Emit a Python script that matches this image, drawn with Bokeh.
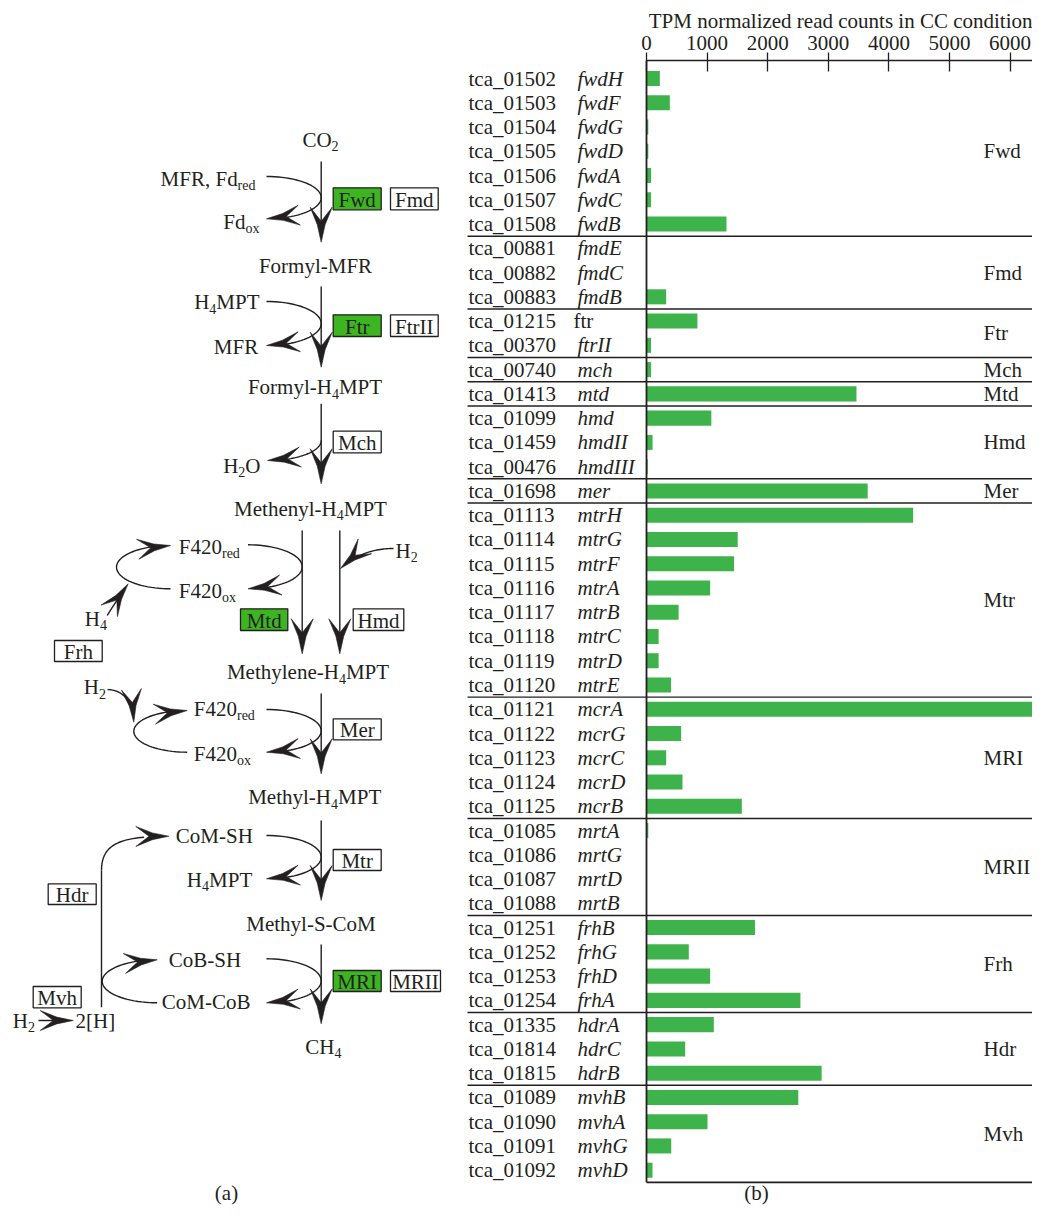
import math
import numpy as np
from bokeh.plotting import figure
from bokeh.models import Range1d, FixedTicker
from bokeh.embed import file_html
from bokeh.resources import INLINE
from bokeh.core.properties import value

# ------------------------------------------------------------------ data
locus_ids = [
    "tca_01502", "tca_01503", "tca_01504", "tca_01505", "tca_01506", "tca_01507", "tca_01508",
    "tca_00881", "tca_00882", "tca_00883",
    "tca_01215", "tca_00370",
    "tca_00740",
    "tca_01413",
    "tca_01099", "tca_01459", "tca_00476",
    "tca_01698",
    "tca_01113", "tca_01114", "tca_01115", "tca_01116", "tca_01117", "tca_01118", "tca_01119", "tca_01120",
    "tca_01121", "tca_01122", "tca_01123", "tca_01124", "tca_01125",
    "tca_01085", "tca_01086", "tca_01087", "tca_01088",
    "tca_01251", "tca_01252", "tca_01253", "tca_01254",
    "tca_01335", "tca_01814", "tca_01815",
    "tca_01089", "tca_01090", "tca_01091", "tca_01092",
]
gene_names = [
    "fwdH", "fwdF", "fwdG", "fwdD", "fwdA", "fwdC", "fwdB",
    "fmdE", "fmdC", "fmdB",
    "ftr", "ftrII",
    "mch",
    "mtd",
    "hmd", "hmdII", "hmdIII",
    "mer",
    "mtrH", "mtrG", "mtrF", "mtrA", "mtrB", "mtrC", "mtrD", "mtrE",
    "mcrA", "mcrG", "mcrC", "mcrD", "mcrB",
    "mrtA", "mrtG", "mrtD", "mrtB",
    "frhB", "frhG", "frhD", "frhA",
    "hdrA", "hdrC", "hdrB",
    "mvhB", "mvhA", "mvhG", "mvhD",
]
tpm_values = [
    220, 385, 30, 30, 75, 75, 1320,
    5, 5, 325,
    840, 75,
    75,
    3465,
    1070, 100, 20,
    3650,
    4400, 1505, 1445, 1050, 530, 200, 200, 405,
    6390, 572, 325, 594, 1573,
    30, 5, 3, 3,
    1790, 698, 1050, 2540,
    1111, 638, 2890,
    2505, 1007, 408, 99,
]
group_names = ["Fwd", "Fmd", "Ftr", "Mch", "Mtd", "Hmd", "Mer", "Mtr",
               "MRI", "MRII", "Frh", "Hdr", "Mvh"]
group_sizes = [7, 3, 2, 1, 1, 3, 1, 8, 5, 4, 4, 3, 4]
axis_ticks = [0, 1000, 2000, 3000, 4000, 5000, 6000]
axis_title = "TPM normalized read counts in CC condition"
upright_genes = ["ftr"]

# ------------------------------------------------------------------ style / layout
INK = "#231f20"
BAR_GREEN = "#3fb34b"
BOX_GREEN = "#3cb521"
FONT = "Liberation Serif"
FS = 21
SUB_FS = 14
SUB_DY = 6.5

W, H = 1032, 1205
TOP_PANEL = 60          # px above the plotting frame (axis + title)
ORIGIN_PX = 646         # px from left edge to value 0
PX_PER_UNIT = 60.6 / 1000.0
ROW_PX = 24.26
FIRST_ROW_PX = 18       # frame top -> first row centre

x_lo = -ORIGIN_PX / PX_PER_UNIT
x_hi = (W - ORIGIN_PX) / PX_PER_UNIT
y_top = -FIRST_ROW_PX / ROW_PX
y_bot = y_top + (H - TOP_PANEL) / ROW_PX

p = figure(width=W, height=H, x_range=Range1d(x_lo, x_hi), y_range=Range1d(y_bot, y_top),
           x_axis_location="above", y_axis_type=None, toolbar_location=None,
           output_backend="svg", min_border_left=0, min_border_right=0,
           min_border_bottom=0, min_border_top=TOP_PANEL, outline_line_color=None,
           title=axis_title)
p.xgrid.visible = False
p.ygrid.visible = False
p.title.align = "right"
p.title.text_font = FONT
p.title.text_font_size = f"{FS}px"
p.title.text_font_style = "normal"
p.title.text_color = INK
p.title.standoff = 0
p.title.offset = 0

# pixel-space ranges for the pathway diagram (panel a) and captions
p.extra_x_ranges = {"px": Range1d(0, W)}
p.extra_y_ranges = {"py": Range1d(H, TOP_PANEL)}
D = dict(x_range_name="px", y_range_name="py")

ax = p.xaxis[0]
ax.ticker = FixedTicker(ticks=axis_ticks)
ax.bounds = (0, x_hi)
ax.major_label_text_font = FONT
ax.major_label_text_font_size = f"{FS}px"
ax.major_label_text_color = INK
ax.major_label_standoff = 3
ax.major_tick_out = 8
ax.major_tick_in = 11
ax.minor_tick_line_color = None
ax.axis_line_color = INK
ax.axis_line_width = 1.5
ax.major_tick_line_color = INK
ax.major_tick_line_width = 1.3


def tw(s, size):
    cw = {' ': 250, ',': 250, '-': 333, '[': 333, ']': 333, '(': 333, ')': 333,
          'A': 722, 'B': 667, 'C': 667, 'D': 722, 'E': 611, 'F': 556, 'G': 722,
          'H': 722, 'I': 333, 'M': 889, 'O': 722, 'P': 556, 'R': 667, 'S': 556,
          'T': 611, 'a': 444, 'b': 500, 'c': 444, 'd': 500, 'e': 444, 'f': 333,
          'h': 500, 'i': 278, 'l': 278, 'm': 778, 'n': 500, 'o': 500, 'r': 333,
          't': 278, 'v': 500, 'w': 722, 'x': 500, 'y': 500}
    return sum(cw.get(c, 500) for c in s) / 1000.0 * size


# ------------------------------------------------------------------ panel (b): bars
rows = list(range(len(locus_ids)))
p.hbar(y=rows, left=0, right=tpm_values, height=0.62,
       fill_color=BAR_GREEN, line_color=None)

starts = np.cumsum([0] + group_sizes)
sep_y = [s - 0.5 for s in starts[1:-1]]
x_sep = -(ORIGIN_PX - 467) / PX_PER_UNIT
p.segment(x0=[x_sep] * len(sep_y), y0=sep_y, x1=[x_hi] * len(sep_y), y1=sep_y,
          line_color=INK, line_width=1.4)
last = starts[-1] - 0.5
p.segment(x0=[0, 0], y0=[y_top, last], x1=[0, x_hi], y1=[last, last],
          line_color=INK, line_width=1.8)

txt = dict(text_baseline="middle", text_font=value(FONT),
           text_font_size=value(f"{FS}px"), text_color=INK)
p.text(x=[0] * len(rows), y=rows, text=locus_ids, x_offset=-178, text_align="left", **txt)
ital = [i for i in rows if gene_names[i] not in upright_genes]
upr = [i for i in rows if gene_names[i] in upright_genes]
p.text(x=[0] * len(ital), y=ital, text=[gene_names[i] for i in ital], x_offset=-69,
       text_align="left", text_font_style="italic", **txt)
p.text(x=[0] * len(upr), y=upr, text=[gene_names[i] for i in upr], x_offset=-73,
       text_align="left", **txt)
centers = [(starts[k] + starts[k + 1] - 1) / 2 for k in range(len(group_names))]
p.text(x=[0] * len(centers), y=centers, text=group_names, x_offset=337,
       text_align="left", **txt)

# ------------------------------------------------------------------ panel (a): pathway
main_t = {"x": [], "y": [], "t": []}
sub_t = {"x": [], "y": [], "t": []}


def rich(x, y, parts, align="left"):
    total = sum(tw(t, SUB_FS if s else FS) for t, s in parts)
    cx = x - total if align == "right" else (x - total / 2 if align == "center" else x)
    for t, s in parts:
        d = sub_t if s else main_t
        d["x"].append(cx)
        d["y"].append(y + (SUB_DY if s else 0))
        d["t"].append(t)
        cx += tw(t, SUB_FS if s else FS)


heads_x, heads_y = [], []
lines_x, lines_y = [], []


def add_head(tx, ty, dx, dy, L=34.0, Wd=11.0, notch=0.6, bow=1.6):
    n = math.hypot(dx, dy)
    ux, uy = dx / n, dy / n
    qx, qy = -uy, ux

    def pt(a, b):
        return (tx - a * ux + b * qx, ty - a * uy + b * qy)
    pts = [pt(0, 0), pt(L * 0.5, Wd * 0.5 - bow), pt(L, Wd), pt(notch * L, 0),
           pt(L, -Wd), pt(L * 0.5, -(Wd * 0.5 - bow))]
    heads_x.append([q[0] for q in pts])
    heads_y.append([q[1] for q in pts])


def add_line(xs, ys):
    lines_x.append(list(xs))
    lines_y.append(list(ys))


for x, y0, y1 in [(320.7, 161, 241.7), (320.7, 286, 366.7), (320.7, 403.3, 483.3),
                  (301.7, 530, 653.3), (339.3, 530, 653.3), (320.7, 693, 773.3),
                  (320.7, 820, 900), (320.7, 944, 1023.3)]:
    add_line([x, x], [y0, y1 - 18])
    add_head(x, y1, 0, 1, L=35, Wd=11)


def right_arc(xs, ytop, xline, ytip, t0=-90.0):
    cx, cy = xs, (ytop + ytip) / 2
    a, b = xline - xs, (ytip - ytop) / 2
    t = np.radians(np.linspace(t0, 72, 40))
    add_line(cx + a * np.cos(t), cy + b * np.sin(t))
    tb = math.radians(58)
    bx, by = cx + a * math.cos(tb), cy + b * math.sin(tb)
    add_head(cx, cy + b, cx - bx, cy + b - by, L=33, Wd=10)


def left_arc(xs, ybot, xleft, ytip):
    cx, cy = xs, (ybot + ytip) / 2
    a, b = xs - xleft, (ybot - ytip) / 2
    t = np.radians(np.linspace(90, 250, 40))
    add_line(cx + a * np.cos(t), cy + b * np.sin(t))
    tb = math.radians(238)
    bx, by = cx + a * math.cos(tb), cy + b * math.sin(tb)
    add_head(cx, cy - b, cx - bx, cy - b - by, L=33, Wd=10)


def bez_arrow(pts):
    q = np.array(pts, dtype=float)
    t = np.linspace(0, 0.8, 30)[:, None]
    if len(q) == 3:
        c = (1 - t) ** 2 * q[0] + 2 * (1 - t) * t * q[1] + t ** 2 * q[2]
        d = q[2] - q[1]
    else:
        c = ((1 - t) ** 3 * q[0] + 3 * (1 - t) ** 2 * t * q[1]
             + 3 * (1 - t) * t ** 2 * q[2] + t ** 3 * q[3])
        d = q[3] - q[2]
    add_line(c[:, 0], c[:, 1])
    add_head(q[-1][0], q[-1][1], d[0], d[1], L=33, Wd=10)


right_arc(266, 176, 320.7, 218.3)
right_arc(266, 301, 320.7, 345)
right_arc(267, 420, 320.7, 460, t0=0)
right_arc(247.5, 544.3, 301.7, 588.3)
right_arc(266, 709, 320.7, 751.7)
right_arc(266, 835, 320.7, 878.3)
right_arc(266, 958.3, 320.7, 1002.3)

left_arc(170, 588.3, 116, 545)
left_arc(186.7, 751.7, 133.3, 710)
left_arc(156.7, 1002.3, 101.7, 959.3)

bez_arrow([(393, 548), (362, 548), (340, 568)])
bez_arrow([(106.7, 615), (116, 600), (127.7, 583.3)])
bez_arrow([(107, 689), (131, 690), (133.3, 721.7)])
add_line([101, 101], [1006.7, 870])
bez_arrow([(101, 870), (101, 842), (122, 836), (168.3, 835.7)])
bez_arrow([(38, 1020), (55, 1020), (72.7, 1020)])

rich(320, 139, [("CO", 0), ("2", 1)], "center")
rich(255, 178, [("MFR, Fd", 0), ("red", 1)], "right")
rich(259, 221.7, [("Fd", 0), ("ox", 1)], "right")
rich(315, 265, [("Formyl-MFR", 0)], "center")
rich(259, 301.7, [("H", 0), ("4", 1), ("MPT", 0)], "right")
rich(257.7, 346.7, [("MFR", 0)], "right")
rich(314.5, 386.7, [("Formyl-H", 0), ("4", 1), ("MPT", 0)], "center")
rich(260, 465, [("H", 0), ("2", 1), ("O", 0)], "right")
rich(310, 508.3, [("Methenyl-H", 0), ("4", 1), ("MPT", 0)], "center")
rich(178.3, 546.7, [("F420", 0), ("red", 1)])
rich(178.3, 590, [("F420", 0), ("ox", 1)])
rich(395, 550, [("H", 0), ("2", 1)])
rich(84.3, 618.3, [("H", 0), ("4", 1)])
rich(307.5, 671.7, [("Methylene-H", 0), ("4", 1), ("MPT", 0)], "center")
rich(83.3, 686.7, [("H", 0), ("2", 1)])
rich(193.3, 708.3, [("F420", 0), ("red", 1)])
rich(193.3, 753.3, [("F420", 0), ("ox", 1)])
rich(314.2, 796.7, [("Methyl-H", 0), ("4", 1), ("MPT", 0)], "center")
rich(252.3, 835.7, [("CoM-SH", 0)], "right")
rich(251.7, 879, [("H", 0), ("4", 1), ("MPT", 0)], "right")
rich(310.5, 923.3, [("Methyl-S-CoM", 0)], "center")
rich(240.7, 959.3, [("CoB-SH", 0)], "right")
rich(250, 1001.7, [("CoM-CoB", 0)], "right")
rich(12.3, 1020, [("H", 0), ("2", 1)])
rich(75, 1020, [("2[H]", 0)])
rich(322.8, 1046, [("CH", 0), ("4", 1)], "center")
rich(226, 1192, [("(a)", 0)], "center")
rich(756, 1192, [("(b)", 0)], "center")

boxes = [
    ("Fwd", 332.7, 380.7, 187.3, 209.3, True), ("Fmd", 390, 437.7, 187.3, 209.3, False),
    ("Ftr", 332.7, 380.7, 314.3, 336, True), ("FtrII", 390, 437.7, 314.3, 336, False),
    ("Mch", 332.7, 380.7, 430.7, 452.3, False),
    ("Mtd", 240, 287.3, 608.3, 630, True), ("Hmd", 352.7, 403.3, 608.3, 630, False),
    ("Frh", 54, 101.7, 640, 661, False),
    ("Mer", 332.7, 380.7, 718.3, 739.3, False),
    ("Mtr", 332.7, 380.7, 849, 870, False),
    ("Hdr", 47.7, 95.7, 883.3, 904, False),
    ("MRI", 332.7, 380.7, 970, 991, True), ("MRII", 390, 440, 970, 991, False),
    ("Mvh", 32.7, 80.7, 986, 1007.3, False),
]
p.quad(left=[b[1] for b in boxes], right=[b[2] for b in boxes],
       top=[b[3] for b in boxes], bottom=[b[4] for b in boxes],
       fill_color=[BOX_GREEN if b[5] else "white" for b in boxes],
       line_color=INK, line_width=1.3, **D)
p.text(x=[(b[1] + b[2]) / 2 for b in boxes], y=[(b[3] + b[4]) / 2 + 1 for b in boxes],
       text=[b[0] for b in boxes], text_align="center", **txt, **D)

p.multi_line(lines_x, lines_y, line_color=INK, line_width=1.4, **D)
p.patches(heads_x, heads_y, fill_color=INK, line_color=INK, line_width=0.6, **D)
p.text(x=main_t["x"], y=main_t["y"], text=main_t["t"], text_align="left", **txt, **D)
p.text(x=sub_t["x"], y=sub_t["y"], text=sub_t["t"], text_align="left",
       text_baseline="middle", text_font=value(FONT),
       text_font_size=value(f"{SUB_FS}px"), text_color=INK, **D)

open("out.html", "w").write(file_html(p, INLINE, "chart"))
